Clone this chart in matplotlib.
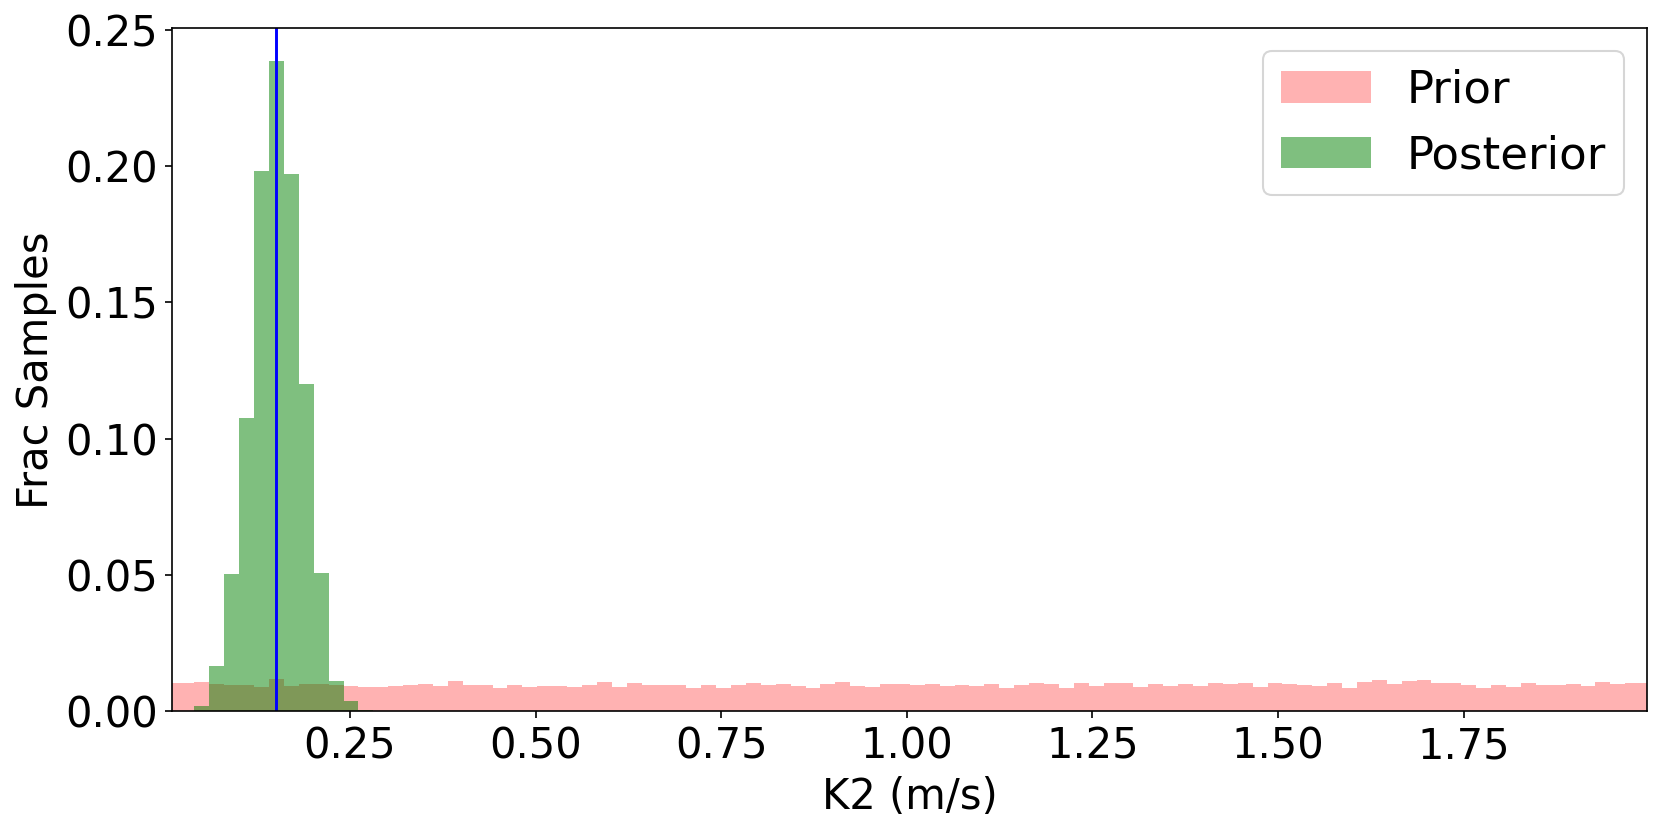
import numpy as np
import matplotlib
matplotlib.use("Agg")
from matplotlib import pyplot as plt

bin_lo, bin_hi = 0.0006, 2.0076
prior_frac = [
    0.0103, 0.0103, 0.0108, 0.0100, 0.0098, 0.0098, 0.0088, 0.0119, 0.0094, 0.0101,
    0.0101, 0.0098, 0.0094, 0.0090, 0.0089, 0.0093, 0.0098, 0.0101, 0.0092, 0.0111,
    0.0097, 0.0098, 0.0087, 0.0095, 0.0090, 0.0093, 0.0093, 0.0089, 0.0098, 0.0109,
    0.0089, 0.0104, 0.0098, 0.0098, 0.0097, 0.0087, 0.0095, 0.0084, 0.0095, 0.0105,
    0.0098, 0.0099, 0.0092, 0.0086, 0.0099, 0.0108, 0.0094, 0.0090, 0.0099, 0.0100,
    0.0097, 0.0101, 0.0093, 0.0097, 0.0092, 0.0100, 0.0086, 0.0095, 0.0103, 0.0099,
    0.0086, 0.0105, 0.0092, 0.0103, 0.0104, 0.0089, 0.0100, 0.0094, 0.0099, 0.0091,
    0.0103, 0.0101, 0.0104, 0.0089, 0.0104, 0.0101, 0.0098, 0.0093, 0.0105, 0.0086,
    0.0108, 0.0114, 0.0099, 0.0111, 0.0115, 0.0103, 0.0105, 0.0098, 0.0086, 0.0096,
    0.0089, 0.0104, 0.0096, 0.0096, 0.0100, 0.0094, 0.0108, 0.0100, 0.0104, 0.0104,
]
post_first_bin = 2
post_frac = [0.0019, 0.0167, 0.0505, 0.1077, 0.1982, 0.2386,
             0.1972, 0.1200, 0.0506, 0.0111, 0.0039, 0.0005]
k2_true = 0.15

edges = np.linspace(bin_lo, bin_hi, len(prior_frac) + 1)
centers = 0.5 * (edges[:-1] + edges[1:])
post_centers = centers[post_first_bin:post_first_bin + len(post_frac)]

fig = plt.figure(figsize=(1661 / 150, 829 / 150), dpi=150)
ax = fig.add_subplot(111)
fig.subplots_adjust(left=0.1037, right=0.9914, top=0.9659, bottom=0.142)

ax.hist(centers, bins=edges, weights=prior_frac, color='red', alpha=0.3, label='Prior')
ax.hist(post_centers, bins=edges, weights=post_frac, color='green', alpha=0.5, label='Posterior')
ax.axvline(k2_true, color='b', linewidth=1.4)

ax.set_xlim(0.0108, 1.9964)
ax.set_ylim(0, 0.2505)
ax.set_xticks([0.25, 0.5, 0.75, 1.0, 1.25, 1.5, 1.75])
ax.set_yticks([0, 0.05, 0.1, 0.15, 0.2, 0.25])
ax.yaxis.set_major_formatter(matplotlib.ticker.FormatStrFormatter('%.2f'))
ax.xaxis.set_major_formatter(matplotlib.ticker.FormatStrFormatter('%.2f'))
ax.tick_params(labelsize=20)
ax.set_xlabel('K2 (m/s)', fontsize=20)
ax.set_ylabel('Frac Samples', fontsize=20)
ax.legend(fontsize=21.6, loc='upper right')

fig.savefig('out.png', dpi=150)
